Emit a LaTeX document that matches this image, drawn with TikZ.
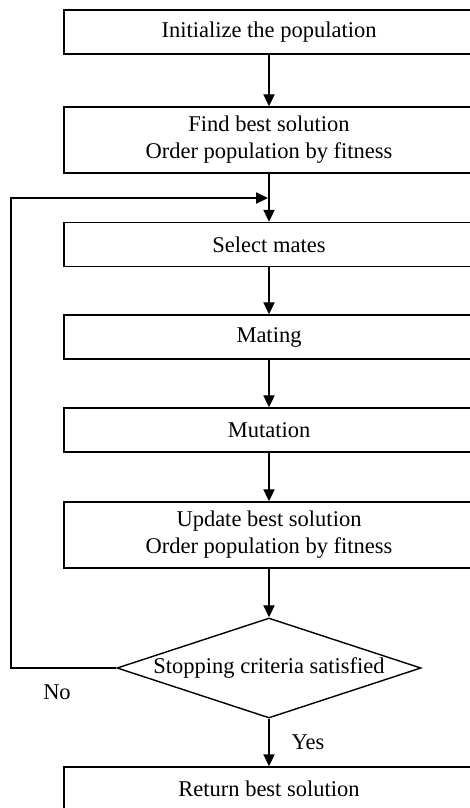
\documentclass[tikz,border=0pt]{standalone}
\usepackage{fontspec}
\setmainfont{Liberation Serif}
\usetikzlibrary{shapes.geometric,arrows.meta}

\begin{document}
\begin{tikzpicture}[x=0.025cm,y=-0.025cm,>={Triangle[length=0.3cm,width=0.28cm]},font=\fontsize{16}{19.2}\selectfont]
    \path[use as bounding box] (0,0) rectangle (469,808);

        \begin{scope}[every node/.style={rectangle,draw,line width=1pt,minimum width=10.25cm,minimum height=1.1cm,align=center}]
            \node (1) at (269,32) {Initialize the population};
            \node[minimum height=1.65cm] (2) at (269,140) {Find best solution\\Order population by fitness};
            \node (3) at (269,244.5) {Select mates};
            \node (4) at (269,337) {Mating};
            \node (5) at (269,430) {Mutation};
            \node[minimum height=1.65cm] (6) at (269,535) {Update best solution\\Order population by fitness};
            \node[diamond,aspect=3,inner sep=0pt,minimum width=7.6cm,minimum height=2.5cm] (7) at (269,668) {Stopping criteria satisfied};
            \node (8) at (269,789) {Return best solution};
        \end{scope}

        \node (no) at (57,692) {No};
        \node (yes) at (308,742) {Yes};
        \coordinate (back) at (11,198);
        \coordinate (join) at (268,198);

        \begin{scope}[line width=1pt]
            \path [->] (1) edge (2);
            \path [->] (2) edge (3);
            \path [->] (3) edge (4);
            \path [->] (4) edge (5);
            \path [->] (5) edge (6);
            \path [->] (6) edge (7);
            \path [->] (7) edge (8);
            \draw [->] (7.west) -| (back) -- (join);
        \end{scope}

    \end{tikzpicture}
\end{document}
